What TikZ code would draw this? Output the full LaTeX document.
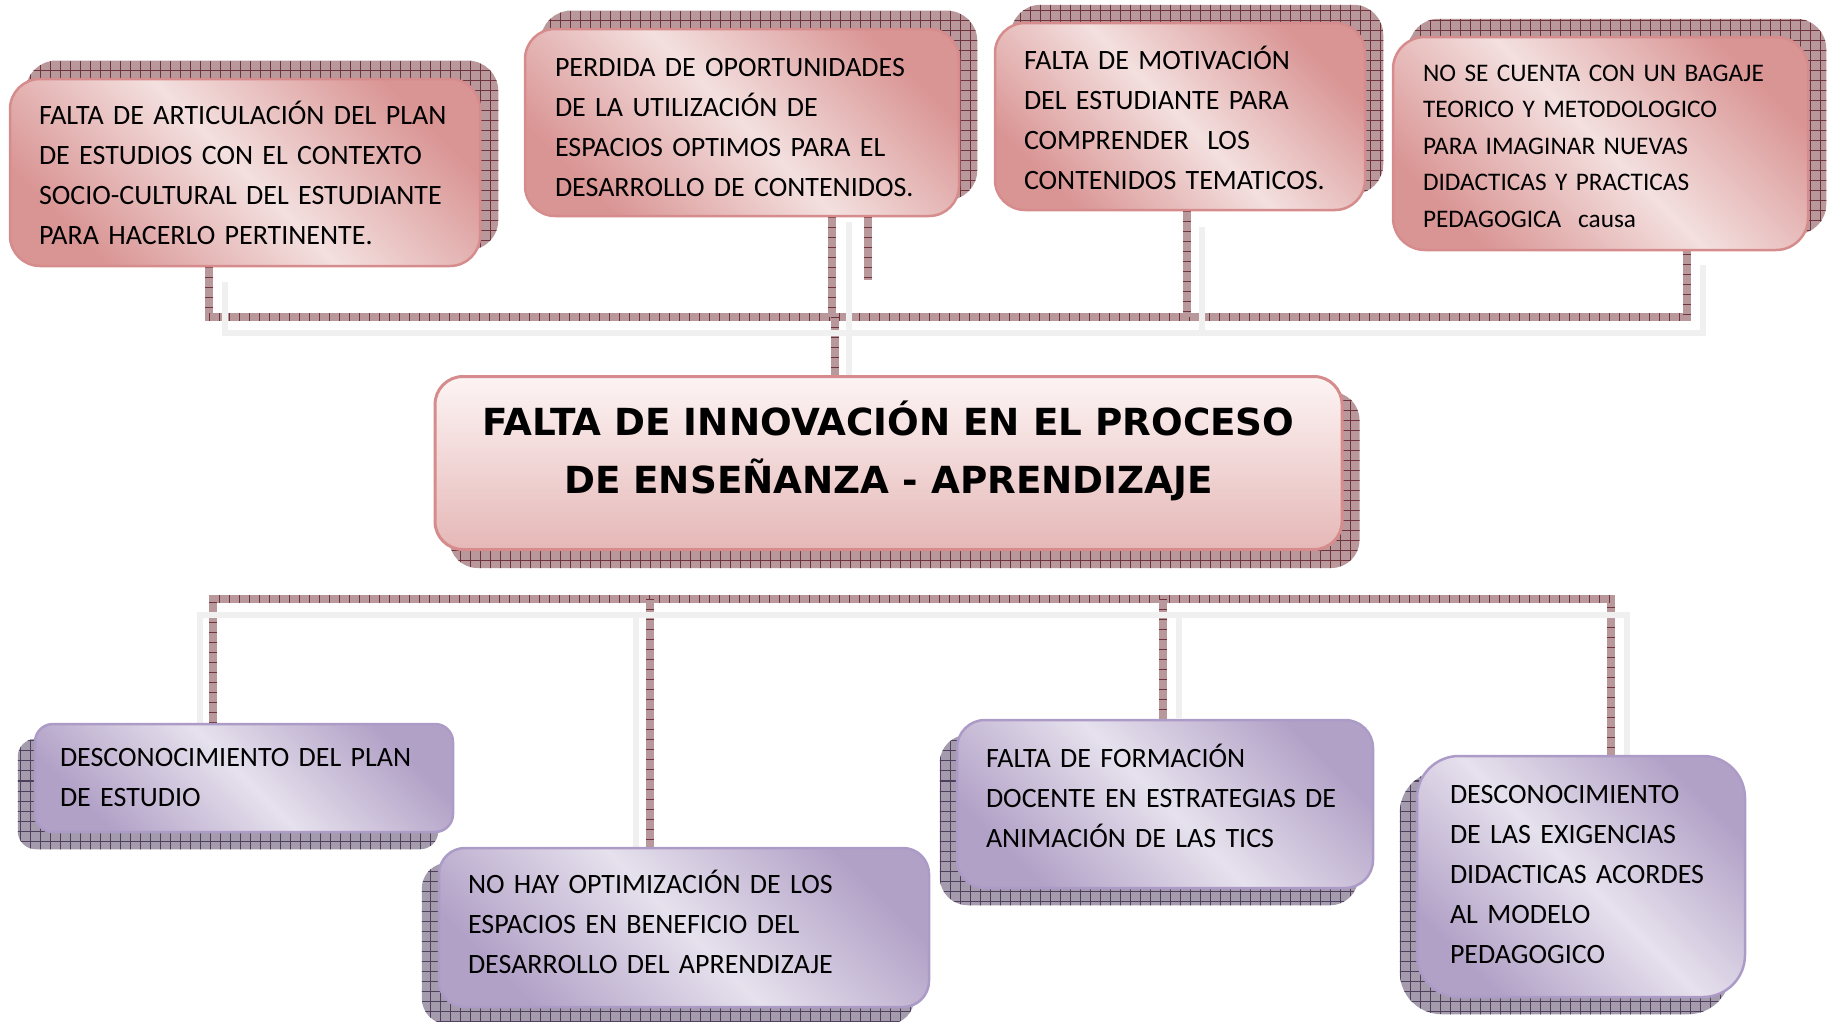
\documentclass[tikz,border=0pt]{standalone}
\usepackage{fontspec}
\setmainfont{Carlito}
\newfontfamily\titlefont{DejaVu Sans}
\usetikzlibrary{patterns.meta,backgrounds}
\definecolor{pinkdark}{RGB}{217,149,148}
\definecolor{pinklight}{RGB}{243,224,223}
\definecolor{pinkedge}{RGB}{214,140,140}
\definecolor{lilacdark}{RGB}{178,161,199}
\definecolor{lilaclight}{RGB}{230,225,237}
\definecolor{lilacedge}{RGB}{172,155,198}
\definecolor{hatchbase}{RGB}{184,152,155}
\definecolor{hatchline}{RGB}{112,52,60}
\definecolor{lhatchbase}{RGB}{164,156,172}
\definecolor{lhatchline}{RGB}{78,64,92}
\definecolor{ghostgray}{RGB}{240,240,240}
\definecolor{titletop}{RGB}{253,244,244}
\definecolor{titlebot}{RGB}{229,184,183}
\newcommand\fstrut[1]{\rule{0pt}{#1pt}}
\newcommand\lstrut[1]{\rule[-#1pt]{0pt}{#1pt}}
\begin{document}
\begin{tikzpicture}[x=1pt,y=-1pt,
  cause/.style={rectangle, draw=pinkedge, line width=2.5pt, inner ysep=0pt,
    top color=pinkdark, bottom color=pinkdark, middle color=pinklight,
    shading angle=-45, align=left, text=black,
    font=\fontsize{28pt}{40pt}\selectfont},
  effect/.style={rectangle, draw=lilacedge, line width=2.5pt, inner ysep=0pt,
    top color=lilacdark, bottom color=lilacdark, middle color=lilaclight,
    shading angle=-45, align=left, text=black,
    font=\fontsize{28pt}{40pt}\selectfont},
  core/.style={rectangle, rounded corners=28pt, draw=pinkedge, line width=3pt, inner ysep=0pt,
    top color=titletop, bottom color=titlebot, align=center, text=black,
    font=\titlefont\bfseries\fontsize{37.3pt}{58pt}\selectfont},
  pinkshadow/.style={fill=hatchbase,
    postaction={pattern={Hatch[angle=0,distance=10pt,line width=1pt]}, pattern color=hatchline}},
  lilacshadow/.style={fill=lhatchbase,
    postaction={pattern={Hatch[angle=0,distance=10pt,line width=1pt]}, pattern color=lhatchline}},
  bar/.style={line width=8pt, draw=hatchbase,
    postaction={draw=hatchline, line width=8pt, dash pattern=on 1.2pt off 8.8pt}},
  ghost/.style={line width=6pt, draw=ghostgray}
]
\useasboundingbox (0,0) rectangle (1829,1021);

% ---- cause boxes (top)
\node[cause, rounded corners=30pt, text width=412pt, inner xsep=29pt, minimum height=187pt] (t1) at (245,172.5)
  {\mbox{\fstrut{41}FALTA DE ARTICULACIÓN DEL PLAN}\\\mbox{DE ESTUDIOS CON EL CONTEXTO}\\\mbox{SOCIO-CULTURAL DEL ESTUDIANTE}\\\mbox{PARA HACERLO PERTINENTE.\lstrut{18}}};
\node[cause, rounded corners=30pt, text width=374pt, inner xsep=30pt, minimum height=187pt] (t2) at (742,122.5)
  {\mbox{\fstrut{46}PERDIDA DE OPORTUNIDADES}\\\mbox{DE LA UTILIZACIÓN DE}\\\mbox{ESPACIOS OPTIMOS PARA EL}\\\mbox{DESARROLLO DE CONTENIDOS.\lstrut{18}}};
\node[cause, rounded corners=30pt, text width=312pt, inner xsep=29pt, minimum height=187pt] (t3) at (1180,116.5)
  {\mbox{\fstrut{44}FALTA DE MOTIVACIÓN}\\\mbox{DEL ESTUDIANTE PARA}\\\mbox{COMPRENDER\ \ LOS}\\\mbox{CONTENIDOS TEMATICOS.\lstrut{18}}};
\node[cause, rounded corners=32pt, text width=355pt, inner xsep=30pt, minimum height=213pt,
      font=\fontsize{25.3pt}{36.5pt}\selectfont] (t4) at (1600.5,143.5)
  {\mbox{\fstrut{39}NO SE CUENTA CON UN BAGAJE}\\\mbox{TEORICO Y METODOLOGICO}\\\mbox{PARA IMAGINAR NUEVAS}\\\mbox{DIDACTICAS Y PRACTICAS}\\\mbox{PEDAGOGICA\ \ causa\lstrut{18}}};

% ---- core problem
\node[core, minimum width=907pt, minimum height=173pt] (c) at (888.5,463)
  {\fstrut{43}FALTA DE INNOVACIÓN EN EL PROCESO\\DE ENSEÑANZA - APRENDIZAJE\lstrut{40}};

% ---- effect boxes (bottom)
\node[effect, rounded corners=18pt, text width=368pt, inner xsep=25pt, minimum height=108pt] (b1) at (244,778)
  {\mbox{\fstrut{35}DESCONOCIMIENTO DEL PLAN}\\\mbox{DE ESTUDIO\lstrut{18}}};
\node[effect, rounded corners=26pt, text width=432pt, inner xsep=29pt, minimum height=159pt] (b2) at (684,927.5)
  {\mbox{\fstrut{30}NO HAY OPTIMIZACIÓN DE LOS}\\\mbox{ESPACIOS EN BENEFICIO DEL}\\\mbox{DESARROLLO DEL APRENDIZAJE\lstrut{18}}};
\node[effect, rounded corners=28pt, text width=358pt, inner xsep=29pt, minimum height=168pt] (b3) at (1165,804)
  {\mbox{\fstrut{24}FALTA DE FORMACIÓN}\\\mbox{DOCENTE EN ESTRATEGIAS DE}\\\mbox{ANIMACIÓN DE LAS TICS\lstrut{18}}};
\node[effect, rounded corners=42pt, text width=262pt, inner xsep=33pt, minimum height=241pt] (b4) at (1581,876.5)
  {\mbox{\fstrut{31}DESCONOCIMIENTO}\\\mbox{DE LAS EXIGENCIAS}\\\mbox{DIDACTICAS ACORDES}\\\mbox{AL MODELO}\\\mbox{PEDAGOGICO\lstrut{18}}};

\begin{scope}[on background layer]
  % shadows
  \foreach \n in {t1,t2,t3,t4}{
    \path[pinkshadow, rounded corners=30pt] ([shift={(17,-17)}]\n.north west) rectangle ([shift={(17,-17)}]\n.south east);
  }
  \path[pinkshadow, rounded corners=28pt] ([shift={(16,17)}]c.north west) rectangle ([shift={(16,17)}]c.south east);
  \path[lilacshadow, rounded corners=18pt] ([shift={(-16,16)}]b1.north west) rectangle ([shift={(-16,16)}]b1.south east);
  \path[lilacshadow, rounded corners=26pt] ([shift={(-16,16)}]b2.north west) rectangle ([shift={(-16,16)}]b2.south east);
  \path[lilacshadow, rounded corners=28pt] ([shift={(-16,16)}]b3.north west) rectangle ([shift={(-16,16)}]b3.south east);
  \path[lilacshadow, rounded corners=42pt] ([shift={(-16,16)}]b4.north west) rectangle ([shift={(-16,16)}]b4.south east);

  % connector junctions
  \coordinate (j1) at (209,317);
  \coordinate (j2) at (832,317);
  \coordinate (jc) at (835,317);
  \coordinate (j3) at (1187,317);
  \coordinate (j4) at (1687,317);
  \coordinate (s2) at (868,280);
  \coordinate (k1) at (213,599);
  \coordinate (k2) at (650,599);
  \coordinate (k3) at (1163,599);
  \coordinate (k4) at (1611,599);

  % top connectors
  \draw[bar] (t1.south -| j1) -- (j1) -- (j4) -- (t4.south -| j4);
  \draw[bar] (t2.south -| j2) -- (j2);
  \draw[bar] (t3.south -| j3) -- (j3);
  \draw[bar] (t2.south -| s2) -- (s2);
  \draw[bar] (jc) -- (c.north -| jc);

  % bottom connectors
  \draw[bar] (b1.north -| k1) -- (k1) -- (k4) -- (b4.north -| k4);
  \draw[bar] (k2) -- (b2.north -| k2);
  \draw[bar] (k3) -- (b3.north -| k3);

  % light connector shadows
  \draw[ghost] (225,282) -- (225,333) -- (1703,333) -- (1703,265);
  \draw[ghost] (849,222) -- (849,393);
  \draw[ghost] (1202,227) -- (1202,333);
  \draw[ghost] (200,724) -- (200,615) -- (1627,615) -- (1627,756);
  \draw[ghost] (636,615) -- (636,848);
  \draw[ghost] (1179,615) -- (1179,718);
\end{scope}
\end{tikzpicture}
\end{document}
